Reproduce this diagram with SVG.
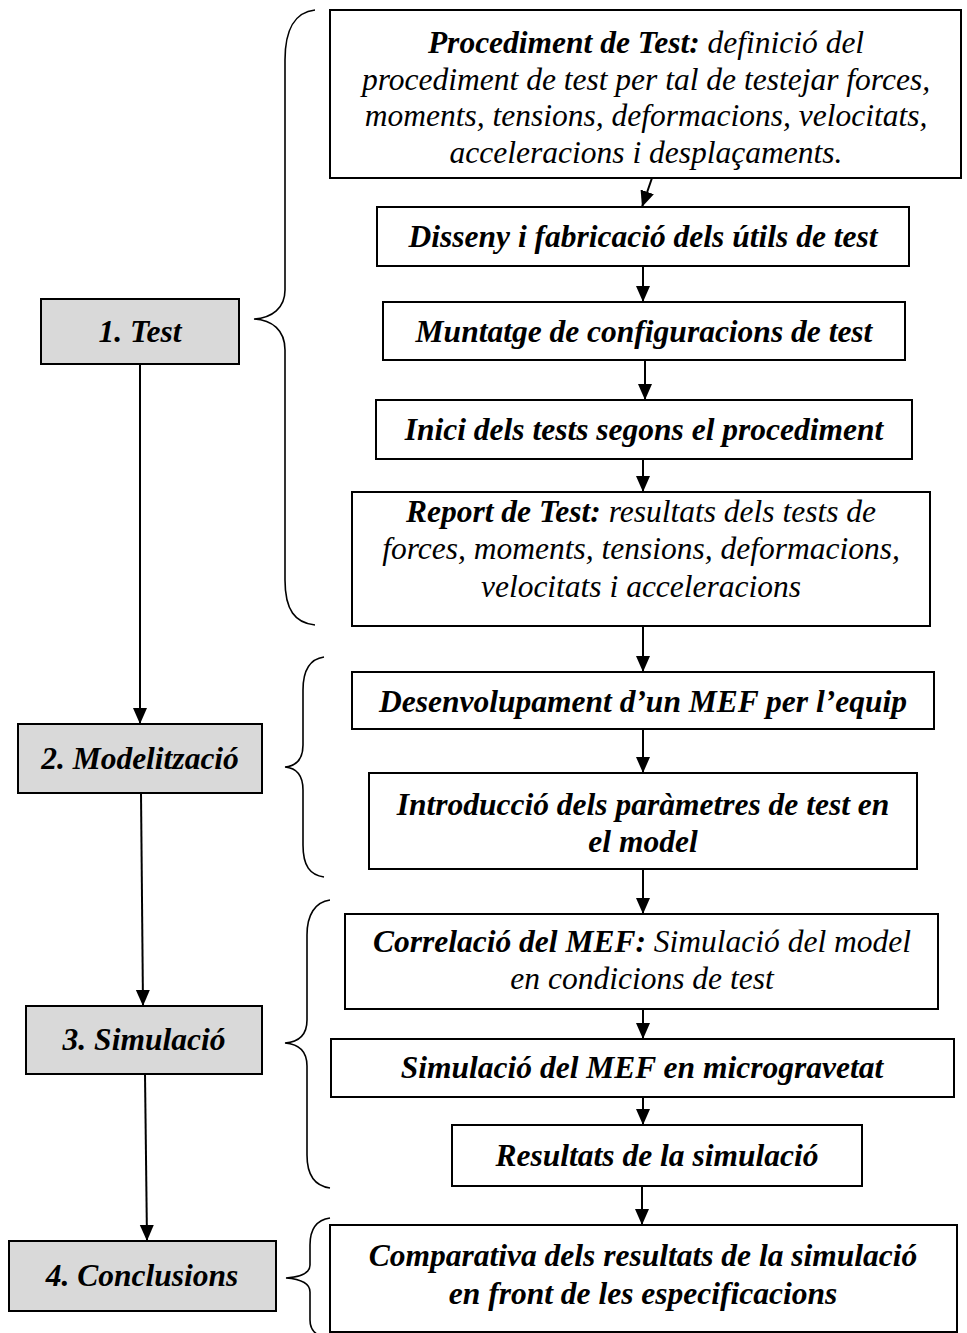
<svg xmlns="http://www.w3.org/2000/svg" width="967" height="1333" viewBox="0 0 967 1333">
<style>
text{font-family:"Liberation Serif","Times New Roman",serif;font-size:31.5px;font-style:italic;fill:#000;text-anchor:middle}
.b{font-weight:bold}
.box{fill:#fff;stroke:#000;stroke-width:2}
.phase{fill:#d9d9d9;stroke:#000;stroke-width:2}
.con{stroke:#000;stroke-width:2;fill:none}
.brace{stroke:#000;stroke-width:1.6;fill:none}
</style>
<defs>
<marker id="ah" markerUnits="userSpaceOnUse" markerWidth="16" markerHeight="18" refX="16" refY="7" orient="auto">
<path d="M0,0 L16,7 L0,14 Z" fill="#000"/>
</marker>
</defs>
<rect width="967" height="1333" fill="#fff"/>

<g id="braces">
<path class="brace" d="M315,10 C295,12 285,30 285,60 L285,290 C285,308 272,318 254,319 C272,320 285,330 285,350 L285,580 C285,610 295,623 315,625"/>
<path class="brace" d="M324,657 C310,659 303,670 303,690 L303,745 C303,760 296,766 285,767 C296,768 303,775 303,790 L303,845 C303,866 310,875 324,877"/>
<path class="brace" d="M330,900 C315,902 307,915 307,935 L307,1020 C307,1036 298,1042 285,1043 C298,1044 307,1050 307,1066 L307,1155 C307,1176 315,1186 330,1188"/>
<path class="brace" d="M330,1218 C316,1220 310,1230 310,1245 L310,1265 C310,1273 300,1277 286,1278 C300,1279 310,1283 310,1292 L310,1320 C310,1332 318,1337 330,1338"/>
</g>

<g id="connectors">
<line class="con" x1="652" y1="178" x2="642" y2="207" marker-end="url(#ah)"/>
<line class="con" x1="643" y1="266" x2="643" y2="302" marker-end="url(#ah)"/>
<line class="con" x1="645" y1="360" x2="645" y2="400" marker-end="url(#ah)"/>
<line class="con" x1="643" y1="459" x2="643" y2="492" marker-end="url(#ah)"/>
<line class="con" x1="643" y1="626" x2="643" y2="672" marker-end="url(#ah)"/>
<line class="con" x1="643" y1="729" x2="643" y2="773" marker-end="url(#ah)"/>
<line class="con" x1="643" y1="869" x2="643" y2="914" marker-end="url(#ah)"/>
<line class="con" x1="643" y1="1009" x2="643" y2="1039" marker-end="url(#ah)"/>
<line class="con" x1="643" y1="1097" x2="643" y2="1125" marker-end="url(#ah)"/>
<line class="con" x1="642" y1="1186" x2="642" y2="1225" marker-end="url(#ah)"/>
<line class="con" x1="140" y1="364" x2="140" y2="724" marker-end="url(#ah)"/>
<line class="con" x1="141" y1="793" x2="143" y2="1006" marker-end="url(#ah)"/>
<line class="con" x1="145" y1="1074" x2="147" y2="1241" marker-end="url(#ah)"/>
</g>

<g id="phase1"><rect class="phase" x="41" y="299" width="198" height="65"/><text class="b" x="140" y="342">1. Test</text></g>
<g id="phase2"><rect class="phase" x="18" y="724" width="244" height="69"/><text class="b" x="140" y="769">2. Modelització</text></g>
<g id="phase3"><rect class="phase" x="26" y="1006" width="236" height="68"/><text class="b" x="144" y="1050">3. Simulació</text></g>
<g id="phase4"><rect class="phase" x="9" y="1241" width="267" height="70"/><text class="b" x="142" y="1286">4. Conclusions</text></g>

<g id="procediment"><rect class="box" x="330" y="10" width="631" height="168"/>
<text x="646" y="53"><tspan class="b">Procediment de Test:</tspan> definició del</text>
<text x="646" y="90">procediment de test per tal de testejar forces,</text>
<text x="646" y="126">moments, tensions, deformacions, velocitats,</text>
<text x="646" y="163">acceleracions i desplaçaments.</text></g>

<g id="disseny"><rect class="box" x="377" y="207" width="532" height="59"/><text class="b" x="643" y="247">Disseny i fabricació dels útils de test</text></g>
<g id="muntatge"><rect class="box" x="383" y="302" width="522" height="58"/><text class="b" x="644" y="342">Muntatge de configuracions de test</text></g>
<g id="inici"><rect class="box" x="376" y="400" width="536" height="59"/><text class="b" x="644" y="440">Inici dels tests segons el procediment</text></g>

<g id="report"><rect class="box" x="352" y="492" width="578" height="134"/>
<text x="641" y="522"><tspan class="b">Report de Test:</tspan> resultats dels tests de</text>
<text x="641" y="559">forces, moments, tensions, deformacions,</text>
<text x="641" y="597">velocitats i acceleracions</text></g>

<g id="desenvolupament"><rect class="box" x="352" y="672" width="582" height="57"/><text class="b" x="643" y="712">Desenvolupament d’un MEF per l’equip</text></g>

<g id="introduccio"><rect class="box" x="369" y="773" width="548" height="96"/>
<text class="b" x="643" y="815">Introducció dels paràmetres de test en</text>
<text class="b" x="643" y="852">el model</text></g>

<g id="correlacio"><rect class="box" x="345" y="914" width="593" height="95"/>
<text x="642" y="952"><tspan class="b">Correlació del MEF:</tspan> Simulació del model</text>
<text x="642" y="989">en condicions de test</text></g>

<g id="simulacio"><rect class="box" x="331" y="1039" width="623" height="58"/><text class="b" x="642" y="1078">Simulació del MEF en microgravetat</text></g>
<g id="resultats"><rect class="box" x="452" y="1125" width="410" height="61"/><text class="b" x="657" y="1166">Resultats de la simulació</text></g>

<g id="comparativa"><rect class="box" x="330" y="1225" width="627" height="107"/>
<text class="b" x="643" y="1266">Comparativa dels resultats de la simulació</text>
<text class="b" x="643" y="1304">en front de les especificacions</text></g>
</svg>
